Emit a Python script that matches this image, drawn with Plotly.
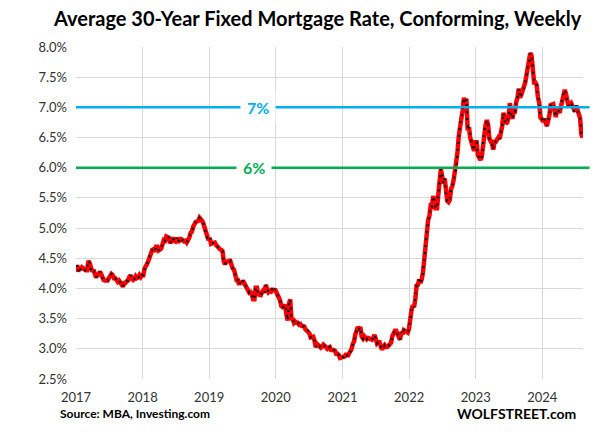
import pandas as pd
import plotly.graph_objects as go

# Weekly MBA 30-year fixed conforming rate (%), first week ending 2017-01-06
rate_2017 = [4.39, 4.28, 4.36, 4.31, 4.35, 4.33, 4.30, 4.30, 4.30, 4.46, 4.42, 4.31, 4.28,
             4.31, 4.22, 4.18, 4.23, 4.23, 4.28, 4.22, 4.17, 4.14, 4.13, 4.13, 4.13, 4.17,
             4.22, 4.24, 4.22, 4.17, 4.17, 4.13, 4.11, 4.13, 4.10, 4.04, 4.03, 4.09, 4.09,
             4.12, 4.13, 4.19, 4.22, 4.16, 4.14, 4.16, 4.20, 4.17, 4.18, 4.22, 4.19, 4.22]
rate_2018 = [4.22, 4.33, 4.36, 4.41, 4.46, 4.53, 4.62, 4.64, 4.65, 4.61, 4.69, 4.69, 4.63,
             4.66, 4.66, 4.73, 4.80, 4.79, 4.86, 4.85, 4.84, 4.75, 4.83, 4.84, 4.79, 4.78,
             4.84, 4.76, 4.80, 4.84, 4.80, 4.80, 4.78, 4.79, 4.76, 4.80, 4.84, 4.92, 4.94,
             5.02, 5.07, 5.10, 5.11, 5.12, 5.17, 5.15, 5.12, 5.08, 4.99, 4.92, 4.84, 4.80]
rate_2019 = [4.84, 4.74, 4.75, 4.75, 4.76, 4.72, 4.69, 4.67, 4.65, 4.64, 4.62, 4.45, 4.40,
             4.44, 4.46, 4.46, 4.46, 4.36, 4.33, 4.31, 4.23, 4.14, 4.14, 4.06, 4.12, 4.08,
             4.13, 4.09, 4.06, 3.99, 3.98, 3.93, 3.94, 3.90, 3.82, 3.82, 4.01, 4.01, 3.90,
             3.90, 3.89, 3.94, 3.97, 3.93, 4.06, 3.99, 3.94, 3.96, 3.95, 4.00, 3.95, 3.99]
rate_2020 = [3.94, 3.87, 3.83, 3.81, 3.71, 3.69, 3.70, 3.73, 3.57, 3.47, 3.74, 3.82, 3.50,
             3.49, 3.43, 3.45, 3.43, 3.43, 3.40, 3.41, 3.38, 3.37, 3.37, 3.32, 3.30, 3.30,
             3.26, 3.19, 3.20, 3.20, 3.14, 3.03, 3.08, 3.05, 3.05, 3.02, 3.04, 3.07, 3.05,
             3.01, 3.00, 3.02, 3.03, 2.98, 2.99, 2.98, 2.97, 2.92, 2.92, 2.90, 2.85, 2.86]
rate_2021 = [2.86, 2.86, 2.88, 2.92, 2.87, 2.92, 2.96, 2.99, 3.08, 3.12, 3.24, 3.29, 3.36,
             3.33, 3.36, 3.20, 3.17, 3.21, 3.18, 3.16, 3.18, 3.17, 3.15, 3.15, 3.18, 3.23,
             3.17, 3.09, 3.11, 3.11, 3.03, 2.99, 3.03, 3.06, 3.03, 3.03, 3.05, 3.08, 3.10,
             3.21, 3.26, 3.30, 3.30, 3.24, 3.21, 3.15, 3.28, 3.24, 3.31, 3.30, 3.27, 3.27, 3.33]
rate_2022 = [3.52, 3.64, 3.72, 3.69, 3.83, 4.05, 4.06, 4.15, 4.09, 4.15, 4.27, 4.50,
             4.80, 4.90, 5.13, 5.20, 5.37, 5.36, 5.53, 5.46, 5.33, 5.33, 5.65, 5.78, 5.98,
             5.84, 5.74, 5.82, 5.54, 5.45, 5.43, 5.47, 5.65, 5.70, 5.80, 5.94, 6.01, 6.25, 6.52,
             6.75, 6.81, 6.94, 7.16, 7.06, 7.14, 6.62, 6.67, 6.49, 6.41, 6.34, 6.28, 6.42]
rate_2023 = [6.42, 6.21, 6.15, 6.13, 6.18, 6.39, 6.62, 6.71, 6.79, 6.71, 6.48, 6.45, 6.40,
             6.30, 6.43, 6.43, 6.48, 6.50, 6.48, 6.57, 6.69, 6.91, 6.77, 6.73, 6.75, 6.85,
             7.07, 6.87, 6.81, 6.93, 6.93, 7.09, 7.16, 7.31, 7.16, 7.21, 7.27, 7.31, 7.41,
             7.53, 7.67, 7.70, 7.90, 7.86, 7.61, 7.41, 7.41, 7.37, 7.17, 7.07, 6.83, 6.81]
rate_2024 = [6.76, 6.81, 6.75, 6.69, 6.78, 6.87, 7.06, 7.04, 7.05, 6.93, 6.84, 6.97, 6.93,
             6.91, 7.01, 7.13, 7.24, 7.29, 7.22, 7.08, 7.01, 7.05, 7.07, 7.02, 6.94, 6.93,
             7.03, 6.95, 6.87, 6.82, 6.55, 6.50]

rate = rate_2017 + rate_2018 + rate_2019 + rate_2020 + rate_2021 + rate_2022 + rate_2023 + rate_2024
weeks = pd.date_range("2017-01-06", periods=len(rate), freq="7D")

ref_levels = [7.0, 6.0]
ref_labels = ["7%", "6%"]
ref_colors = ["#00B0F0", "#00B050"]

year_ticks = [f"{y}-01-01" for y in range(2017, 2025)]
year_labels = [str(y) for y in range(2017, 2025)]
y_ticks = [2.5, 3.0, 3.5, 4.0, 4.5, 5.0, 5.5, 6.0, 6.5, 7.0, 7.5, 8.0]

FONT = "Lato"
fig = go.Figure()
fig.add_trace(go.Scatter(x=weeks, y=rate, mode="lines",
                         line=dict(color="#FF0000", width=4.5), hoverinfo="skip"))
fig.add_trace(go.Scatter(x=weeks, y=rate, mode="lines",
                         line=dict(color="#000000", width=2.2, dash="2px,5px")))

label_x = ["2019-09-27", "2019-09-01"]
for lvl, lab, col, lx in zip(ref_levels, ref_labels, ref_colors, label_x):
    fig.add_shape(type="line", xref="paper", yref="y", x0=0, x1=1.013, y0=lvl, y1=lvl,
                  line=dict(color=col, width=2.5), layer="above")
    fig.add_annotation(x=lx, y=lvl, xref="x", yref="y", text=f"<b>{lab}</b>",
                       showarrow=False, bgcolor="white", borderpad=6,
                       font=dict(family=FONT, size=16, color=col))

fig.add_annotation(xref="paper", yref="paper", x=0.477, y=1.087, xanchor="center", yanchor="middle",
                   text="<b>Average 30-Year Fixed Mortgage Rate, Conforming, Weekly</b>",
                   showarrow=False, font=dict(family=FONT, size=20, color="#000000"))
fig.add_annotation(xref="paper", yref="paper", x=-0.035, y=-0.105, xanchor="left", yanchor="middle",
                   text="<b>Source: MBA, Investing.com</b>",
                   showarrow=False, font=dict(family=FONT, size=12, color="#000000"))
fig.add_annotation(xref="paper", yref="paper", x=0.99, y=-0.105, xanchor="right", yanchor="middle",
                   text="<b>WOLFSTREET.com</b>",
                   showarrow=False, font=dict(family=FONT, size=14, color="#000000"))

fig.update_layout(
    width=604, height=447,
    margin=dict(l=76, r=21, t=47, b=68),
    paper_bgcolor="white", plot_bgcolor="white",
    showlegend=False,
    font=dict(family=FONT, size=13, color="#333333"),
)
fig.update_xaxes(type="date", range=["2017-01-01", "2024-08-11"],
                 tickvals=year_ticks, ticktext=year_labels,
                 showgrid=True, gridcolor="#D9D9D9", gridwidth=1,
                 showline=False, zeroline=False, ticks="", ticklabelstandoff=9,
                 tickfont=dict(family=FONT, size=13, color="#333333"))
fig.update_yaxes(range=[2.5, 8.0], tickvals=y_ticks,
                 ticktext=[f"{v:.1f}%" for v in y_ticks],
                 showgrid=True, gridcolor="#D9D9D9", gridwidth=1,
                 showline=False, zeroline=False, ticks="", ticklabelstandoff=8,
                 tickfont=dict(family=FONT, size=13, color="#333333"))

fig.write_html("out.html")
